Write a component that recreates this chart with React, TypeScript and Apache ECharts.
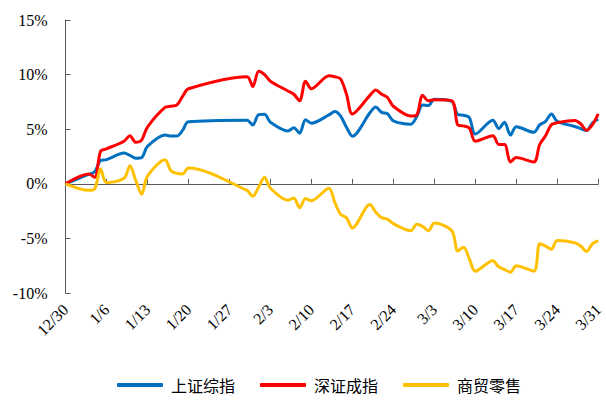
import React, { useEffect, useRef } from "react";
import * as echarts from "echarts";

const startDate = "2022-12-30";
const dates = [
  "2022-12-30", "2023-01-03", "2023-01-04", "2023-01-05", "2023-01-06",
  "2023-01-09", "2023-01-10", "2023-01-11", "2023-01-12", "2023-01-13",
  "2023-01-16", "2023-01-17", "2023-01-18", "2023-01-19", "2023-01-20",
  "2023-01-30", "2023-01-31", "2023-02-01", "2023-02-02", "2023-02-03",
  "2023-02-06", "2023-02-07", "2023-02-08", "2023-02-09", "2023-02-10",
  "2023-02-13", "2023-02-14", "2023-02-15", "2023-02-16", "2023-02-17",
  "2023-02-20", "2023-02-21", "2023-02-22", "2023-02-23", "2023-02-24",
  "2023-02-27", "2023-02-28", "2023-03-01", "2023-03-02", "2023-03-03",
  "2023-03-06", "2023-03-07", "2023-03-08", "2023-03-09", "2023-03-10",
  "2023-03-13", "2023-03-14", "2023-03-15", "2023-03-16", "2023-03-17",
  "2023-03-20", "2023-03-21", "2023-03-22", "2023-03-23", "2023-03-24",
  "2023-03-27", "2023-03-28", "2023-03-29", "2023-03-30", "2023-03-31",
];

const seriesNames = ["上证综指", "深证成指", "商贸零售"];

const shanghai = [
  0, 0.88, 1.11, 2.14, 2.21, 2.81, 2.6, 2.35, 2.4, 3.43,
  4.48, 4.37, 4.37, 4.89, 5.68, 5.83, 5.39, 6.33, 6.36, 5.64,
  4.84, 5.14, 4.62, 5.86, 5.55, 6.31, 6.61, 6.19, 5.17, 4.36,
  6.51, 7.03, 6.54, 6.42, 5.76, 5.46, 6.16, 7.22, 7.17, 7.74,
  7.54, 6.34, 6.28, 6.05, 4.56, 5.81, 5.05, 5.64, 4.46, 5.22,
  4.72, 5.39, 5.72, 6.39, 5.71, 5.25, 5.05, 4.88, 5.57, 5.94,
];

const shenzhen = [
  0, 0.9, 0.6, 3.0, 3.2, 3.9, 4.4, 3.8, 4.0, 5.2,
  7.0, 7.1, 7.2, 8.0, 8.7, 9.8, 8.9, 10.3, 10.0, 9.4,
  8.5, 8.2, 7.6, 9.4, 8.7, 9.9, 9.8, 9.6, 8.2, 6.4,
  8.1, 8.6, 8.2, 7.9, 7.1, 6.2, 6.3, 8.1, 7.6, 7.7,
  7.6, 5.4, 5.3, 5.1, 3.9, 4.4, 3.6, 3.6, 2.0, 2.4,
  2.0, 3.6, 4.4, 5.4, 5.6, 5.8, 5.5, 4.9, 5.4, 6.4,
];

const retail = [
  0, -0.6, -0.45, 1.35, 0.1, 0.5, 1.65, 0.3, -0.95, 0.7,
  2.2, 1.2, 0.95, 0.9, 1.45, -0.6, -1.15, -0.3, 0.6, -0.4,
  -1.5, -1.3, -2.2, -1.35, -1.55, -0.4, -1.7, -2.8, -3.1, -4.05,
  -1.9, -2.6, -3.1, -3.25, -3.65, -4.3, -3.7, -3.9, -4.3, -3.6,
  -4.3, -6.15, -5.8, -6.9, -8.0, -7.05, -7.6, -7.85, -8.1, -7.5,
  -8.0, -5.5, -5.7, -6.0, -5.2, -5.4, -5.7, -6.2, -5.5, -5.2,
];

const xTickLabels = [
  "12/30", "1/6", "1/13", "1/20", "1/27", "2/3", "2/10",
  "2/17", "2/24", "3/3", "3/10", "3/17", "3/24", "3/31",
];

const colors = ["#0070C0", "#FF0000", "#FFC000"];

const DAY = 86400000;
const dayIndex = (d: string) =>
  Math.round((Date.parse(d + "T00:00:00Z") - Date.parse(startDate + "T00:00:00Z")) / DAY);

export default function App() {
  const ref = useRef<HTMLDivElement>(null);

  useEffect(() => {
    if (!ref.current) return;
    const chart = echarts.init(ref.current, undefined, { renderer: "svg" });
    const xs = dates.map(dayIndex);
    const pairs = (vals: number[]) => vals.map((v, i) => [xs[i], v]);
    const serif = "'Liberation Serif', 'Times New Roman', serif";
    const axisColor = "#595959";

    chart.setOption({
      animation: false,
      backgroundColor: "#ffffff",
      grid: { left: 65.5, right: 4, top: 20, bottom: 123, containLabel: false },
      legend: {
        data: seriesNames,
        left: 112,
        top: 372,
        icon: "roundRect",
        itemWidth: 46,
        itemHeight: 4,
        itemGap: 25,
        textStyle: {
          fontSize: 16,
          color: "#000",
          fontFamily: "'Noto Sans CJK SC', sans-serif",
          padding: [0, 0, 0, 3],
        },
      },
      xAxis: [
        {
          type: "value",
          min: 0,
          max: 91,
          interval: 7,
          position: "bottom",
          axisLine: { show: false, onZero: false },
          axisTick: { show: false },
          splitLine: { show: false },
          axisLabel: {
            rotate: 45,
            margin: 14,
            fontSize: 16,
            fontFamily: serif,
            color: "#000",
            formatter: (v: number) => xTickLabels[Math.round(v / 7)] ?? "",
          },
        },
        {
          type: "value",
          min: 0,
          max: 91,
          interval: 7,
          position: "top",
          axisLine: { show: true, onZero: true, lineStyle: { color: axisColor, width: 1 } },
          axisTick: { show: true, inside: false, length: 5, lineStyle: { color: axisColor } },
          axisLabel: { show: false },
          splitLine: { show: false },
        },
      ],
      yAxis: {
        type: "value",
        min: -10,
        max: 15,
        interval: 5,
        axisLine: { show: true, lineStyle: { color: axisColor, width: 1 } },
        axisTick: { show: true, inside: true, length: 5, lineStyle: { color: axisColor } },
        splitLine: { show: false },
        axisLabel: {
          margin: 18,
          fontSize: 16,
          fontFamily: serif,
          color: "#000",
          formatter: "{value}%",
        },
      },
      series: [shanghai, shenzhen, retail].map((vals, i) => ({
        name: seriesNames[i],
        type: "line",
        xAxisIndex: 0,
        data: pairs(vals),
        smooth: 0.3,
        symbol: "none",
        lineStyle: { color: colors[i], width: 3 },
        itemStyle: { color: colors[i] },
      })),
    });

    return () => chart.dispose();
  }, []);

  return (
    <div
      ref={ref}
      style={{ position: "fixed", left: 0, top: 0, width: 606, height: 416, background: "#fff" }}
    />
  );
}
